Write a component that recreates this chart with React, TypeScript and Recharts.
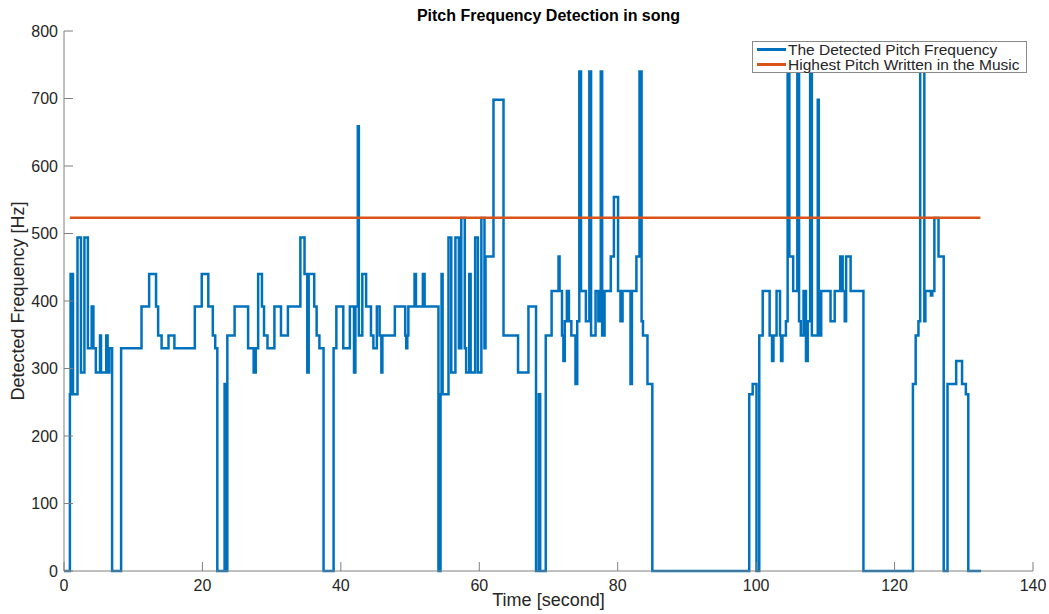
import React from "react";
import { LineChart, Line, XAxis, YAxis } from "recharts";

const BLUE = "#0072BD";
const ORANGE = "#D95319";

// [time (s), detected pitch (Hz)] — each value holds until the next time
const phraseOne: [number, number][] = [
  [0, 0], [0.85, 262], [0.95, 440], [1.3, 262], [1.95, 494], [2.45, 294],
  [2.95, 494], [3.45, 330], [4.0, 392], [4.25, 330], [4.6, 294], [5.2, 349],
  [5.35, 294], [6.1, 349], [6.3, 294], [6.55, 330], [6.95, 0],
  [8.25, 330], [11.2, 392], [12.3, 440], [13.3, 392], [13.6, 349], [14.1, 330],
  [15.1, 349], [15.95, 330], [18.9, 392], [19.9, 440], [20.85, 392], [21.5, 349],
  [21.85, 330], [22.15, 0], [23.2, 277], [23.4, 0],
];

const phraseTwo: [number, number][] = [
  [23.6, 349], [24.65, 392], [26.6, 330], [27.4, 294], [27.7, 330], [28.05, 440],
  [28.6, 392], [28.9, 349], [29.4, 330], [30.4, 392], [31.35, 349], [32.35, 392],
  [34.15, 494], [34.75, 440], [35.15, 294], [35.35, 440], [36.15, 392], [36.5, 349],
  [36.9, 330], [37.5, 0], [38.95, 330], [39.35, 392], [40.35, 330], [41.3, 392],
  [41.9, 294], [42.1, 392], [42.45, 659], [42.6, 349], [43.1, 440], [43.65, 392],
  [44.35, 349], [44.7, 330], [45.2, 392], [45.6, 349], [45.85, 294], [46.0, 349],
  [47.8, 392], [49.3, 349], [49.45, 330], [49.6, 349], [49.75, 392], [50.65, 440],
  [50.85, 392], [51.85, 440], [52.1, 392], [54.1, 0],
];

const phraseThree: [number, number][] = [
  [54.4, 262], [54.55, 440], [54.7, 262], [55.55, 494], [55.95, 294], [56.55, 494],
  [57.05, 330], [57.4, 523], [57.9, 330], [58.1, 294], [58.55, 440], [58.75, 294],
  [59.4, 494], [59.8, 294], [60.3, 523], [60.75, 330], [60.9, 466], [62.05, 698],
  [63.5, 349], [65.6, 294], [67.1, 392], [68.2, 0], [68.6, 262], [68.8, 0],
];

const phraseFour: [number, number][] = [
  [69.6, 349], [70.45, 415], [71.45, 466], [71.6, 415], [71.95, 349], [72.15, 311],
  [72.35, 370], [72.65, 415], [72.95, 370], [73.3, 349], [73.9, 277], [74.15, 370],
  [74.45, 740], [74.7, 415], [75.4, 370], [75.9, 740], [76.15, 349], [76.8, 415],
  [77.2, 370], [77.55, 740], [77.75, 349], [78.1, 415], [79.0, 466], [79.45, 554],
  [80.05, 415], [80.4, 370], [80.7, 415], [81.85, 277], [82.05, 415], [82.7, 466],
  [83.15, 740], [83.45, 370], [83.65, 349], [84.3, 277], [85.0, 0],
];

const phraseFive: [number, number][] = [
  [99.0, 262], [99.5, 277], [100.05, 0], [100.45, 349], [100.95, 415], [101.95, 349],
  [102.3, 311], [102.5, 349], [102.95, 415], [103.45, 349], [103.6, 311], [103.8, 349],
  [104.3, 370], [104.55, 740], [104.8, 466], [105.35, 415], [105.95, 740], [106.2, 370],
  [106.45, 349], [106.85, 415], [107.2, 311], [107.45, 370], [107.8, 740], [108.05, 349],
  [108.9, 698], [109.05, 349], [109.4, 415], [110.75, 370], [111.35, 415], [112.15, 466],
  [112.5, 415], [112.8, 370], [113.0, 466], [113.65, 415], [115.5, 0],
];

const phraseSix: [number, number][] = [
  [122.65, 277], [123.05, 349], [123.45, 370], [123.7, 740], [124.3, 370], [124.45, 415],
  [125.25, 408], [125.45, 415], [125.75, 523], [126.35, 466], [127.1, 0], [127.65, 277],
  [128.9, 311], [129.75, 277], [130.3, 262], [130.65, 0], [132.5, 0],
];

const highestPitch = 523.25;
const highestRange = [0.85, 132.4];

const xTicks = [0, 20, 40, 60, 80, 100, 120, 140];
const yTicks = [0, 100, 200, 300, 400, 500, 600, 700, 800];

const pitchData = [...phraseOne, ...phraseTwo, ...phraseThree, ...phraseFour, ...phraseFive, ...phraseSix]
  .map(([t, f]) => ({ t, f }));
const highestData = highestRange.map((t) => ({ t, h: highestPitch }));

const FONT = "'Liberation Sans', Arial, Helvetica, sans-serif";
const AXIS = "#808080";
const TEXT = "#262626";
const TICK_LEN = 9;

// MATLAB-style ticks: pointing into the plot box
const BottomTick = ({ x, y, payload }: any) => (
  <g>
    <line x1={x} x2={x} y1={y - 7} y2={y - 7 - TICK_LEN} stroke={AXIS} />
    <text x={x} y={y} dy="0.8em" textAnchor="middle" fontSize={16} fill={TEXT} fontFamily={FONT}>
      {payload.value}
    </text>
  </g>
);

const LeftTick = ({ x, y, payload }: any) => (
  <g>
    <line x1={x + 6} x2={x + 6 + TICK_LEN} y1={y} y2={y} stroke={AXIS} />
    <text x={x} y={y} dy="0.36em" textAnchor="end" fontSize={16} fill={TEXT} fontFamily={FONT}>
      {payload.value}
    </text>
  </g>
);

const TopTick = ({ x, y }: any) => <line x1={x} x2={x} y1={y} y2={y + TICK_LEN} stroke={AXIS} />;
const RightTick = ({ x, y }: any) => <line x1={x} x2={x - TICK_LEN} y1={y} y2={y} stroke={AXIS} />;

function LegendBox() {
  const rows = [
    { color: BLUE, label: "The Detected Pitch Frequency" },
    { color: ORANGE, label: "Highest Pitch Written in the Music" },
  ];
  return (
    <div
      style={{
        position: "absolute", left: 752, top: 41, width: 269, height: 30,
        border: "1px solid #8a8a8a", background: "#fff", padding: "0 0 0 4px",
        fontFamily: FONT, fontSize: 15.5, color: TEXT, lineHeight: "15px",
      }}
    >
      {rows.map((r) => (
        <div key={r.label} style={{ display: "flex", alignItems: "center", whiteSpace: "nowrap", height: 15 }}>
          <span style={{ display: "inline-block", width: 29, height: 2.5, background: r.color, marginRight: 2 }} />
          {r.label}
        </div>
      ))}
    </div>
  );
}

export default function App() {
  return (
    <div style={{ position: "absolute", left: 0, top: 0, width: 1049, height: 614, background: "#fff" }}>
      <LineChart width={1049} height={614} margin={{ top: 31, right: 16, bottom: 0, left: 0 }}>
        <XAxis
          dataKey="t"
          type="number"
          domain={[0, 140]}
          ticks={xTicks}
          height={43}
          allowDataOverflow
          tickLine={false}
          tickSize={0}
          tickMargin={7}
          stroke={AXIS}
          tick={<BottomTick />}
        />
        <XAxis
          xAxisId="top"
          dataKey="t"
          orientation="top"
          type="number"
          domain={[0, 140]}
          ticks={xTicks}
          height={0}
          tickLine={false}
          tickSize={0}
          tickMargin={0}
          stroke={AXIS}
          tick={<TopTick />}
        />
        <YAxis
          type="number"
          domain={[0, 800]}
          ticks={yTicks}
          width={64}
          tickLine={false}
          tickSize={0}
          tickMargin={6}
          stroke={AXIS}
          tick={<LeftTick />}
        />
        <YAxis
          yAxisId="right"
          orientation="right"
          type="number"
          domain={[0, 800]}
          ticks={yTicks}
          width={0}
          tickLine={false}
          tickSize={0}
          tickMargin={0}
          stroke={AXIS}
          tick={<RightTick />}
        />
        <Line
          data={pitchData}
          dataKey="f"
          name="The Detected Pitch Frequency"
          type="stepAfter"
          stroke={BLUE}
          strokeWidth={2.5}
          dot={false}
          isAnimationActive={false}
        />
        <Line
          data={highestData}
          dataKey="h"
          xAxisId="top"
          yAxisId="right"
          name="Highest Pitch Written in the Music"
          type="linear"
          stroke={ORANGE}
          strokeWidth={2.5}
          dot={false}
          isAnimationActive={false}
        />
      </LineChart>
      <div
        style={{
          position: "absolute", left: 64, width: 969, top: 7, textAlign: "center",
          fontFamily: FONT, fontWeight: "bold", fontSize: 16, color: "#000",
        }}
      >
        Pitch Frequency Detection in song
      </div>
      <div
        style={{
          position: "absolute", left: 64, width: 969, top: 590, textAlign: "center",
          fontFamily: FONT, fontSize: 18, color: TEXT,
        }}
      >
        Time [second]
      </div>
      <div
        style={{
          position: "absolute", left: 18, top: 301, width: 300, marginLeft: -150, marginTop: -11,
          textAlign: "center", transform: "rotate(-90deg)",
          fontFamily: FONT, fontSize: 18, color: TEXT, lineHeight: "22px",
        }}
      >
        Detected Frequency [Hz]
      </div>
      <LegendBox />
    </div>
  );
}
